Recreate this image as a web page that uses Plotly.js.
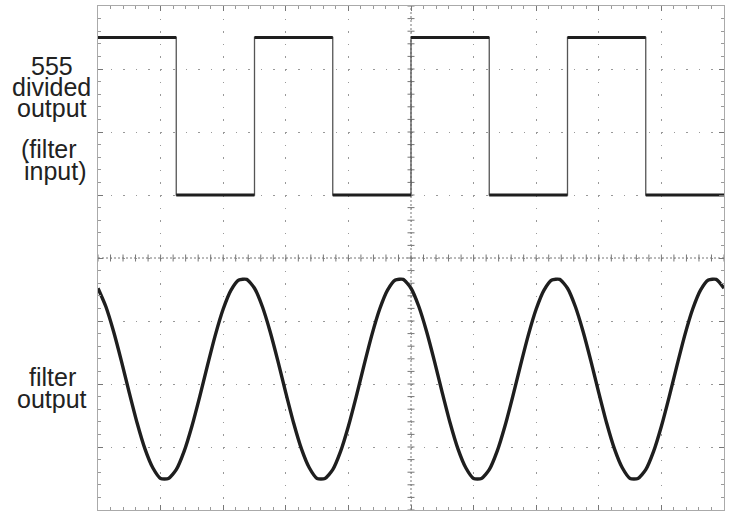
<!DOCTYPE html>
<html>
<head>
<meta charset="utf-8">
<script src="https://cdn.plot.ly/plotly-3.0.1.min.js"></script>
<style>html,body{margin:0;padding:0;background:#fff;}#chart{width:730px;height:512px;}</style>
</head>
<body>
<div id="chart"></div>
<script>
// Time axis in screen divisions (0..10), amplitude in vertical divisions (-4..4)
const squareTimes = [0, 1.25, 1.25, 2.5, 2.5, 3.75, 3.75, 5, 5, 6.25, 6.25, 7.5, 7.5, 8.75, 8.75, 10];
const squareLevels = [3.5, 3.5, 1.0, 1.0, 3.5, 3.5, 1.0, 1.0, 3.5, 3.5, 1.0, 1.0, 3.5, 3.5, 1.0, 1.0];

// Filter output read every 1/8 division
const filterStart = 0;
const filterStep = 0.125;
const filterValues = [
  -0.48, -0.77, -1.17, -1.64, -2.14, -2.62, -3.03, -3.33, -3.50, -3.50,
  -3.36, -3.07, -2.67, -2.20, -1.70, -1.22, -0.81, -0.51, -0.35, -0.34,
  -0.48, -0.77, -1.17, -1.64, -2.14, -2.62, -3.03, -3.33, -3.50, -3.50,
  -3.36, -3.07, -2.67, -2.20, -1.70, -1.22, -0.81, -0.51, -0.35, -0.34,
  -0.48, -0.77, -1.17, -1.64, -2.14, -2.62, -3.03, -3.33, -3.50, -3.50,
  -3.36, -3.07, -2.67, -2.20, -1.70, -1.22, -0.81, -0.51, -0.35, -0.34,
  -0.48, -0.77, -1.17, -1.64, -2.14, -2.62, -3.03, -3.33, -3.50, -3.50,
  -3.36, -3.07, -2.67, -2.20, -1.70, -1.22, -0.81, -0.51, -0.35, -0.34,
  -0.48];

const labelLines = [
  {text: '555', x: 52, base: 75},
  {text: 'divided', x: 51, base: 96},
  {text: 'output', x: 52, base: 117},
  {text: '(filter', x: 49, base: 158},
  {text: 'input)', x: 55, base: 180},
  {text: 'filter', x: 52, base: 386},
  {text: 'output', x: 52, base: 408}
];

// Build thick level segments from the square-wave arrays
const levelX = [], levelY = [];
for (let i = 0; i + 1 < squareTimes.length; i += 2) {
  levelX.push(squareTimes[i], squareTimes[i + 1], null);
  levelY.push(squareLevels[i], squareLevels[i + 1], null);
}

// Graticule tick marks along the centre lines
const tickX = [], tickXY = [], tickY = [], tickYX = [];
for (let k = 0; k <= 50; k++) { tickX.push(k * 0.2); tickXY.push(0); }
for (let k = 0; k <= 40; k++) { tickYX.push(5); tickY.push(-4 + k * 0.2); }

const W = 730, H = 512, L = 98, R = 6, T = 6, B = 2;
const plotH = H - T - B, plotW = W - L - R;
const FS = 25;

const traces = [
  {x: tickX, y: tickXY, mode: 'markers', type: 'scatter', hoverinfo: 'skip', cliponaxis: false,
   marker: {symbol: 'line-ns', size: 5, line: {width: 1, color: '#777'}}},
  {x: tickYX, y: tickY, mode: 'markers', type: 'scatter', hoverinfo: 'skip', cliponaxis: false,
   marker: {symbol: 'line-ew', size: 5, line: {width: 1, color: '#777'}}},
  {x: squareTimes, y: squareLevels, mode: 'lines', type: 'scatter',
   line: {color: '#555', width: 1.3}},
  {x: levelX, y: levelY, mode: 'lines', type: 'scatter', connectgaps: false,
   line: {color: '#1e1e1e', width: 3.2}},
  {x0: filterStart, dx: filterStep, y: filterValues, mode: 'lines', type: 'scatter',
   line: {color: '#1e1e1e', width: 3.4, shape: 'spline', smoothing: 0.6}}
];

const annotations = labelLines.map(l => ({
  text: l.text, showarrow: false, xref: 'paper', yref: 'paper',
  x: (l.x - L) / plotW, y: (H - B - (l.base - 0.346 * FS)) / plotH,
  xanchor: 'center', yanchor: 'middle',
  font: {family: 'Liberation Sans, Arial, sans-serif', size: FS, color: '#222'}
}));

const layout = {
  width: W, height: H,
  margin: {l: L, r: R, t: T, b: B, pad: 0},
  paper_bgcolor: '#fff', plot_bgcolor: '#fff',
  showlegend: false,
  xaxis: {range: [0, 10], dtick: 1, tick0: 0, showticklabels: false,
    showgrid: true, gridcolor: '#999', gridwidth: 1, griddash: '1.5px,11.1px',
    zeroline: false, showline: true, linecolor: '#aaa', linewidth: 1, mirror: 'allticks',
    ticks: 'inside', ticklen: 5, tickcolor: '#777', tickwidth: 1,
    minor: {dtick: 0.2, ticks: 'inside', ticklen: 3, tickcolor: '#999', showgrid: false},
    fixedrange: true},
  yaxis: {range: [-4, 4], dtick: 1, tick0: 0, showticklabels: false,
    showgrid: true, gridcolor: '#999', gridwidth: 1, griddash: '1.5px,11.02px',
    zeroline: false, showline: true, linecolor: '#aaa', linewidth: 1, mirror: 'allticks',
    ticks: 'inside', ticklen: 5, tickcolor: '#777', tickwidth: 1,
    minor: {dtick: 0.2, ticks: 'inside', ticklen: 3, tickcolor: '#999', showgrid: false},
    fixedrange: true},
  shapes: [
    {type: 'line', xref: 'x', yref: 'y', x0: 0, x1: 10, y0: 0, y1: 0, layer: 'below',
     line: {color: '#777', width: 1, dash: '2px,2px'}},
    {type: 'line', xref: 'x', yref: 'y', x0: 5, x1: 5, y0: -4, y1: 4, layer: 'below',
     line: {color: '#777', width: 1, dash: '2px,2px'}}
  ],
  annotations: annotations
};

Plotly.newPlot('chart', traces, layout, {staticPlot: true, displayModeBar: false});
</script>
</body>
</html>
